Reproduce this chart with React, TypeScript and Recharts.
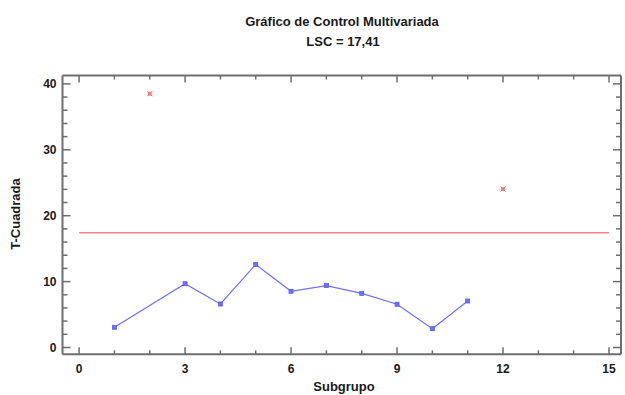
import React from 'react';
import { ComposedChart, Scatter, XAxis, YAxis, ReferenceLine } from 'recharts';

const subgroups = [1, 3, 4, 5, 6, 7, 8, 9, 10, 11];
const t2Values = [3.07, 9.68, 6.6, 12.6, 8.53, 9.4, 8.22, 6.56, 2.85, 7.06];
const outSubgroups = [2, 12];
const outValues = [38.5, 24.05];
const LSC = 17.41;
const xTicks = [0, 1, 2, 3, 4, 5, 6, 7, 8, 9, 10, 11, 12, 13, 14, 15];
const yTicks = [0, 2, 4, 6, 8, 10, 12, 14, 16, 18, 20, 22, 24, 26, 28, 30, 32, 34, 36, 38, 40];

const inData = subgroups.map((x, i) => ({ x, y: t2Values[i] }));
const outData = outSubgroups.map((x, i) => ({ x, y: outValues[i] }));

const FONT = '"Liberation Sans", Arial, sans-serif';
const AXIS = '#6e6e6e';
const TXT = '#1a1a1a';

const BottomTick = (p: any) => {
  const v = p.payload.value;
  const major = v % 3 === 0;
  return (
    <g>
      <line x1={p.x} x2={p.x} y1={p.y} y2={p.y - (major ? 7 : 4)} stroke={AXIS} strokeWidth={1.5} />
      {major && (
        <text x={p.x} y={p.y + 19} textAnchor="middle" fontFamily={FONT} fontSize={12} fontWeight="bold" fill={TXT}>
          {v}
        </text>
      )}
    </g>
  );
};
const TopTick = (p: any) => {
  const v = p.payload.value;
  const major = v % 3 === 0;
  return <line x1={p.x} x2={p.x} y1={p.y} y2={p.y + (major ? 7 : 4)} stroke={AXIS} strokeWidth={1.5} />;
};
const LeftTick = (p: any) => {
  const v = p.payload.value;
  const major = v % 10 === 0;
  return (
    <g>
      <line x1={p.x} x2={p.x + (major ? 8 : 5)} y1={p.y} y2={p.y} stroke={AXIS} strokeWidth={1.5} />
      {major && (
        <text x={p.x - 6} y={p.y + 4.5} textAnchor="end" fontFamily={FONT} fontSize={12} fontWeight="bold" fill={TXT}>
          {v}
        </text>
      )}
    </g>
  );
};
const RightTick = (p: any) => {
  const v = p.payload.value;
  const major = v % 10 === 0;
  return <line x1={p.x} x2={p.x - (major ? 8 : 5)} y1={p.y} y2={p.y} stroke={AXIS} strokeWidth={1.5} />;
};

const BlueDot = (p: any) => (
  <rect x={p.cx - 2} y={p.cy - 2} width={4} height={4} fill="#7070ff" stroke="#5a5aff" strokeWidth={0.8} />
);
const RedDot = (p: any) => (
  <g>
    <rect x={p.cx - 2} y={p.cy - 2} width={4} height={4} fill="#ff8c8c" />
    <line x1={p.cx - 2.5} y1={p.cy - 2.5} x2={p.cx + 2.5} y2={p.cy + 2.5} stroke="#ff6f6f" strokeWidth={1} />
    <line x1={p.cx - 2.5} y1={p.cy + 2.5} x2={p.cx + 2.5} y2={p.cy - 2.5} stroke="#ff6f6f" strokeWidth={1} />
  </g>
);

export default function App() {
  return (
    <div style={{ position: 'absolute', left: 0, top: 0, width: 625, height: 395, background: '#fff' }}>
      <ComposedChart width={625} height={395} margin={{ top: 74.5, right: 3, bottom: 10.7, left: 0 }}>
        <XAxis
          xAxisId="b"
          type="number"
          dataKey="x"
          domain={[-0.47, 15.34]}
          ticks={xTicks}
          interval={0}
          allowDataOverflow
          height={30}
          tickSize={0}
          tickMargin={0}
          tickLine={false}
          axisLine={{ stroke: AXIS, strokeWidth: 2 }}
          tick={<BottomTick />}
        />
        <XAxis
          xAxisId="t"
          orientation="top"
          type="number"
          dataKey="x"
          domain={[-0.47, 15.34]}
          ticks={xTicks}
          interval={0}
          allowDataOverflow
          height={1}
          tickSize={0}
          tickMargin={0}
          tickLine={false}
          axisLine={false}
          tick={<TopTick />}
        />
        <YAxis
          yAxisId="l"
          type="number"
          dataKey="y"
          domain={[-1.03, 41.27]}
          ticks={yTicks}
          interval={0}
          allowDataOverflow
          width={62.5}
          tickSize={0}
          tickMargin={0}
          tickLine={false}
          axisLine={{ stroke: AXIS, strokeWidth: 2 }}
          tick={<LeftTick />}
        />
        <YAxis
          yAxisId="r"
          orientation="right"
          type="number"
          dataKey="y"
          domain={[-1.03, 41.27]}
          ticks={yTicks}
          interval={0}
          allowDataOverflow
          width={1}
          tickSize={0}
          tickMargin={0}
          tickLine={false}
          axisLine={false}
          tick={<RightTick />}
        />
        <ReferenceLine xAxisId="t" yAxisId="l" y={41.27} stroke={AXIS} strokeWidth={2} ifOverflow="visible" />
        <ReferenceLine xAxisId="b" yAxisId="r" x={15.34} stroke={AXIS} strokeWidth={2} ifOverflow="visible" />
        <ReferenceLine
          xAxisId="b"
          yAxisId="l"
          segment={[{ x: 0, y: LSC }, { x: 15, y: LSC }]}
          stroke="#ff8080"
          strokeWidth={1.5}
          ifOverflow="visible"
        />
        <Scatter
          xAxisId="b"
          yAxisId="l"
          data={inData}
          line={{ stroke: '#6f6fff', strokeWidth: 1.2 }}
          shape={<BlueDot />}
          isAnimationActive={false}
        />
        <Scatter xAxisId="b" yAxisId="l" data={outData} shape={<RedDot />} isAnimationActive={false} />
      </ComposedChart>
      <svg width={625} height={395} style={{ position: 'absolute', left: 0, top: 0, pointerEvents: 'none' }}>
        <text x={342} y={25.5} textAnchor="middle" fontFamily={FONT} fontSize={13} fontWeight="bold" fill={TXT}>
          Gráfico de Control Multivariada
        </text>
        <text x={343} y={46} textAnchor="middle" fontFamily={FONT} fontSize={13} fontWeight="bold" fill={TXT}>
          LSC = 17,41
        </text>
        <text x={344} y={391} textAnchor="middle" fontFamily={FONT} fontSize={13} fontWeight="bold" fill={TXT}>
          Subgrupo
        </text>
        <text
          x={19.5}
          y={214}
          textAnchor="middle"
          transform="rotate(-90 19.5 214)"
          fontFamily={FONT}
          fontSize={13}
          fontWeight="bold"
          fill={TXT}
        >
          T-Cuadrada
        </text>
      </svg>
    </div>
  );
}
